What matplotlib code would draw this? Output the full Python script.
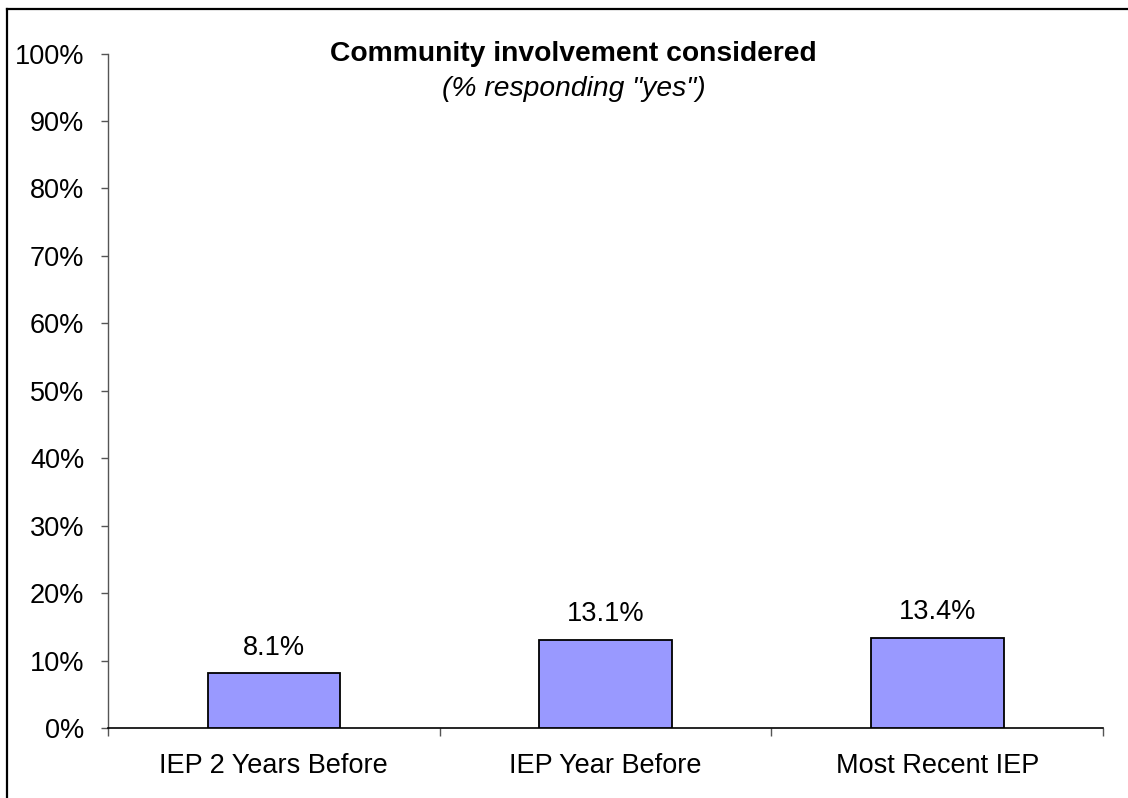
import numpy as np
import matplotlib
matplotlib.use("Agg")
import matplotlib.pyplot as plt
from matplotlib.ticker import PercentFormatter, FixedLocator
from matplotlib.lines import Line2D

plt.rcParams['font.family'] = ['Liberation Sans', 'DejaVu Sans']

# Share of respondents answering "yes"
categories = ['IEP 2 Years Before', 'IEP Year Before', 'Most Recent IEP']
values = [0.081, 0.131, 0.134]
bar_labels = ['8.1%', '13.1%', '13.4%']
y_ticks = [0.0, 0.1, 0.2, 0.3, 0.4, 0.5, 0.6, 0.7, 0.8, 0.9, 1.0]

W, H = 1128, 798
fig = plt.figure(figsize=(W / 100, H / 100), dpi=100)
ax = fig.add_axes([108 / W, 1 - 728 / H, (1103 - 108) / W, (728 - 53.5) / H])

x = np.arange(len(categories))
bars = ax.bar(x, values, width=0.4, color='#9999FF', edgecolor='black',
              linewidth=1.3, zorder=3)

for rect, lab in zip(bars, bar_labels):
    ax.annotate(lab, (rect.get_x() + rect.get_width() / 2, rect.get_height()),
                xytext=(0, 13.5), textcoords='offset points',
                ha='center', va='baseline', fontsize=19.5)

ax.set_xlim(-0.5, len(categories) - 0.5)
ax.set_ylim(0, 1)
ax.set_yticks(y_ticks)
ax.yaxis.set_major_formatter(PercentFormatter(xmax=1, decimals=0))

# labels at category centres, tick marks on the boundaries
ax.set_xticks(x)
ax.set_xticklabels(categories)
ax.xaxis.set_minor_locator(FixedLocator(np.arange(len(categories) + 1) - 0.5))
ax.tick_params(axis='x', which='major', length=0, pad=18, labelsize=19.5)
ax.tick_params(axis='x', which='minor', length=6, width=1, color='#555555')
ax.tick_params(axis='y', length=5, width=1, color='#555555', pad=12,
               labelsize=19.5)

for side in ('top', 'right'):
    ax.spines[side].set_visible(False)
ax.spines['left'].set_color('#555555')
ax.spines['left'].set_linewidth(1)
ax.spines['bottom'].set_color('black')
ax.spines['bottom'].set_linewidth(1.2)

fig.text(573.5 / W, 1 - 61 / H, 'Community involvement considered',
         ha='center', va='baseline', fontsize=20.3, fontweight='bold')
fig.text(573.5 / W, 1 - 96 / H, '(% responding "yes")',
         ha='center', va='baseline', fontsize=20.3, fontstyle='italic')

# chart frame (left and top edges)
fx, fy = 7 / W, 1 - 9 / H
fig.add_artist(Line2D([fx, fx], [0, fy], transform=fig.transFigure,
                      color='black', linewidth=1.6))
fig.add_artist(Line2D([fx, 1], [fy, fy], transform=fig.transFigure,
                      color='black', linewidth=1.6))

fig.savefig('out.png', dpi=100)
